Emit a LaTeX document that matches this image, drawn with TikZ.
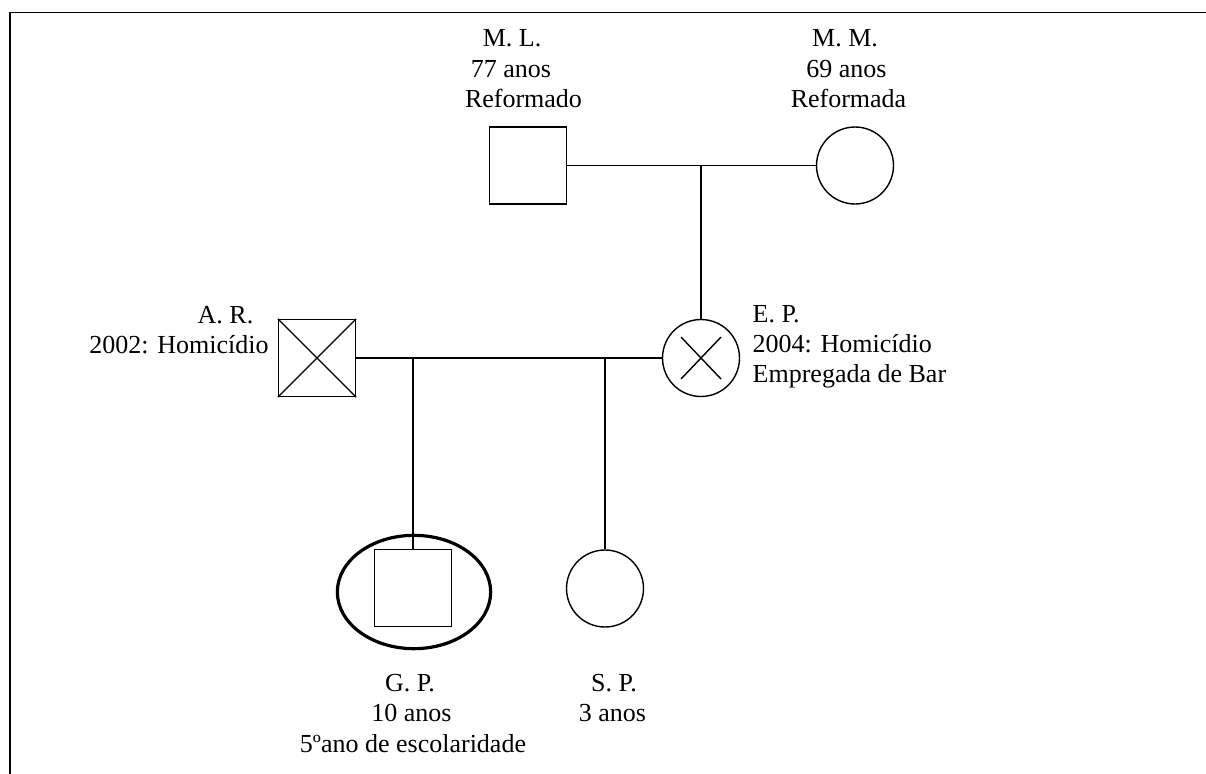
\documentclass[tikz,border=0pt]{standalone}
\usepackage{fontspec}
\setmainfont{Liberation Serif}
\usetikzlibrary{shapes.geometric}
\begin{document}
\begin{tikzpicture}[x=0.75pt,y=-0.75pt,
  line width=1.05pt,
  male/.style={draw,rectangle,minimum size=57.75pt,inner sep=0pt},
  female/.style={draw,circle,minimum size=57.75pt,inner sep=0pt},
  halo/.style={draw,ellipse,line width=2.4pt,minimum width=115pt,minimum height=85pt,inner sep=0pt},
  lbl/.style={anchor=base,inner sep=0pt,font=\fontsize{19.5}{23}\selectfont},
  lbll/.style={anchor=base west,inner sep=0pt,font=\fontsize{19.5}{23}\selectfont}]
\useasboundingbox (0,0) rectangle (1206,774);
% frame
\draw[line width=1.3pt] (10,774) -- (10,12.5) -- (1206,12.5);

% people
\node[male] (ml) at (528,165.5) {};
\node[female] (mm) at (855,165.5) {};
\node[male] (ar) at (317,358) {};
\node[female] (ep) at (701,358) {};
\node[halo] (gpe) at (414,592) {};
\node[male] (gp) at (413,588) {};
\node[female] (sp) at (605,588.5) {};

% marks
\draw (ar.north west) -- (ar.south east);
\draw (ar.south west) -- (ar.north east);
\draw ([shift={(-20,-21)}]ep.center) -- ([shift={(20,21)}]ep.center);
\draw ([shift={(-20,21)}]ep.center) -- ([shift={(20,-21)}]ep.center);

% connectors
\coordinate (m1) at (701,165.5);
\coordinate (c1) at (413,358);
\coordinate (c2) at (605,358);
\draw (ml.east) -- (mm.west);
\draw (m1) -- (ep.north);
\draw (ar.east) -- (ep.west);
\draw (c1) -- (gp.north);
\draw (c2) -- (sp.north);

% labels
\node[lbl] (mlt1) at (512,47) {M. L.};
\node[lbl] (mlt2) at (511,78) {77 anos};
\node[lbl] (mlt3) at (523.5,108) {Reformado};
\node[lbl] (mmt1) at (845,47) {M. M.};
\node[lbl] (mmt2) at (846.5,78) {69 anos};
\node[lbl] (mmt3) at (848.5,108) {Reformada};
\node[lbl] (art1) at (225.5,323) {A. R.};
\node[lbl] (art2) at (179,353) {2002: Homicídio};
\node[lbll] (ept1) at (752,322) {E. P.};
\node[lbll] (ept2) at (752,352.5) {2004: Homicídio};
\node[lbll] (ept3) at (752,382) {Empregada de Bar};
\node[lbl] (gpt1) at (410,691.5) {G. P.};
\node[lbl] (gpt2) at (411.5,721.5) {10 anos};
\node[lbl] (gpt3) at (413,752) {5ºano de escolaridade};
\node[lbl] (spt1) at (614,691.5) {S. P.};
\node[lbl] (spt2) at (612.5,721.5) {3 anos};
\end{tikzpicture}
\end{document}
